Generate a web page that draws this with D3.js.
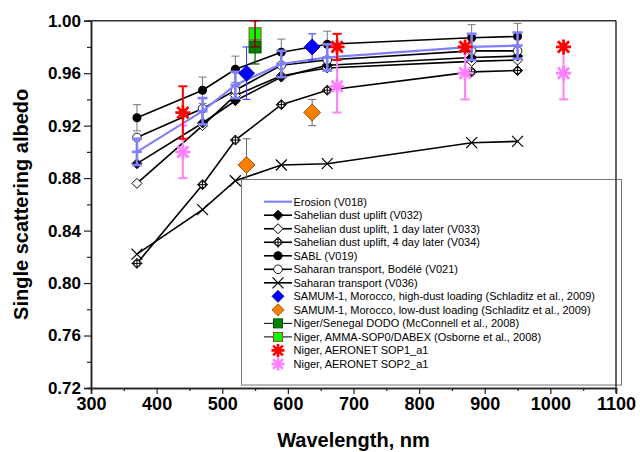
<!DOCTYPE html>
<html>
<head>
<meta charset="utf-8">
<script src="https://cdn.jsdelivr.net/npm/d3@7/dist/d3.min.js"></script>
<style>
  html, body { margin: 0; padding: 0; background: #fff; }
  svg { display: block; }
  text { font-family: "Liberation Sans", Arial, sans-serif; }
</style>
</head>
<body>
<script>
// ---------- data ----------
const wavelengths = [370, 470, 520, 590, 660, 880, 950];
const erosion   = [0.900, 0.931, 0.951, 0.967, 0.972, 0.980, 0.981];
const erosionErr = [0.01, 0.01, 0.01, 0.01, 0.01, 0.01, 0.01];
const v032 = [0.891, 0.922, 0.939, 0.957, 0.966, 0.972, 0.973];
const v033 = [0.876, 0.920, 0.943, 0.958, 0.964, 0.969, 0.970];
const v034 = [0.815, 0.875, 0.909, 0.936, 0.947, 0.961, 0.962];
const sabl = [0.926, 0.947, 0.963, 0.976, 0.982, 0.987, 0.988];
const sablErr = [0.01, 0.01, 0.01, 0.01, 0.01, 0.01, 0.01];
const v021 = [0.911, 0.933, 0.947, 0.966, 0.970, 0.977, 0.977];
const v036 = [0.822, 0.856, 0.878, 0.890, 0.891, 0.907, 0.908];

const samumWl = [537, 637];
const samumHigh = [0.960, 0.980];
const samumHighErr = [0.02, 0.01];
const samumLow = [0.890, 0.930];
const samumLowErr = [0.02, 0.01];

const dodoWl = [550];
const dodo = [0.980];
const dodoLow = [0.967];
const dodoHigh = [0.990];
const ammaWl = [550];
const amma = [0.990];
const ammaErr = [0.01];

const aeronetWl = [440, 675, 870, 1020];
const sop1 = [0.930, 0.980, 0.980, 0.980];
const sop1Err = [0.02, 0.01, 0, 0];
const sop2 = [0.900, 0.950, 0.960, 0.960];
const sop2Err = [0.02, 0.02, 0.02, 0.02];

const xMajor = [300, 400, 500, 600, 700, 800, 900, 1000, 1100];
const xMinor = [350, 450, 550, 650, 750, 850, 950, 1050];
const yMajor = [0.72, 0.76, 0.80, 0.84, 0.88, 0.92, 0.96, 1.00];
const yMinor = [0.74, 0.78, 0.82, 0.86, 0.90, 0.94, 0.98];

const legendLabels = [
  "Erosion (V018)",
  "Sahelian dust uplift (V032)",
  "Sahelian dust uplift, 1 day later (V033)",
  "Sahelian dust uplift, 4 day later (V034)",
  "SABL (V019)",
  "Saharan transport, Bodélé (V021)",
  "Saharan transport (V036)",
  "SAMUM-1, Morocco, high-dust loading (Schladitz et al., 2009)",
  "SAMUM-1, Morocco, low-dust loading (Schladitz et al., 2009)",
  "Niger/Senegal DODO (McConnell et al., 2008)",
  "Niger, AMMA-SOP0/DABEX (Osborne et al., 2008)",
  "Niger, AERONET SOP1_a1",
  "Niger, AERONET SOP2_a1"
];

// ---------- layout ----------
const W = 640, H = 452;
const L = 91, R = 616, T = 20.7, B = 388;
const x = d3.scaleLinear().domain([300, 1100]).range([L, R]);
const y = d3.scaleLinear().domain([0.72, 1.00]).range([B, T]);

const svg = d3.select("body").append("svg").attr("width", W).attr("height", H);

// ---------- marker helpers ----------
function diamondPath(r) { return `M0,${-r}L${r},0L0,${r}L${-r},0Z`; }
function drawMarker(g, type, cx, cy, opt = {}) {
  const m = g.append("g").attr("transform", `translate(${cx},${cy})`);
  switch (type) {
    case "fdiamond":
      m.append("path").attr("d", diamondPath(5)).attr("fill", "#000").attr("stroke", "#000").attr("stroke-width", 1);
      break;
    case "odiamond":
      m.append("path").attr("d", diamondPath(5)).attr("fill", "#fff").attr("stroke", "#000").attr("stroke-width", 1);
      break;
    case "pdiamond":
      m.append("path").attr("d", diamondPath(5)).attr("fill", "#fff").attr("stroke", "#000").attr("stroke-width", 1);
      m.append("path").attr("d", "M-5,0H5M0,-5V5").attr("stroke", "#000").attr("stroke-width", 1);
      m.append("circle").attr("r", 3.2).attr("fill", "none").attr("stroke", "#000").attr("stroke-width", 1);
      break;
    case "fcircle":
      m.append("circle").attr("r", 4.5).attr("fill", "#000");
      break;
    case "ocircle":
      m.append("circle").attr("r", 4.3).attr("fill", "#fff").attr("stroke", "#000").attr("stroke-width", 0.9);
      break;
    case "cross":
      m.append("path").attr("d", "M-5.5,-5.5L5.5,5.5M-5.5,5.5L5.5,-5.5").attr("stroke", "#000").attr("stroke-width", 1.2);
      break;
    case "bigdiamond":
      m.append("path").attr("d", diamondPath(opt.r || 8)).attr("fill", opt.fill).attr("stroke", opt.stroke).attr("stroke-width", 0.8);
      break;
    case "square":
      m.append("rect").attr("x", -6).attr("y", -6).attr("width", 12).attr("height", 12)
        .attr("fill", opt.fill).attr("stroke", opt.stroke).attr("stroke-width", 1);
      break;
    case "asterisk": {
      const s = opt.s || 6.5, d = s * 0.75;
      m.append("path").attr("d", `M${-s},0H${s}M0,${-s}V${s}M${-d},${-d}L${d},${d}M${-d},${d}L${d},${-d}`)
        .attr("stroke", opt.color).attr("stroke-width", opt.w || 2.8);
      break;
    }
  }
}
function errBar(g, cx, lo, hi, color, width, cap) {
  g.append("line").attr("x1", cx).attr("x2", cx).attr("y1", y(lo)).attr("y2", y(hi))
    .attr("stroke", color).attr("stroke-width", width);
  [lo, hi].forEach(v => g.append("line").attr("x1", cx - cap / 2).attr("x2", cx + cap / 2)
    .attr("y1", y(v)).attr("y2", y(v)).attr("stroke", color).attr("stroke-width", width));
}

// ---------- axes ----------
const axG = svg.append("g");
const xMinAx = d3.axisBottom(x).tickValues(xMinor).tickSize(3).tickFormat("");
const xMajAx = d3.axisBottom(x).tickValues(xMajor).tickSize(6).tickPadding(3).tickFormat(d3.format("d"));
const yMinAx = d3.axisLeft(y).tickValues(yMinor).tickSize(4).tickFormat("");
const yMajAx = d3.axisLeft(y).tickValues(yMajor).tickSize(7).tickPadding(3).tickFormat(d3.format(".2f"));

axG.append("g").attr("transform", `translate(0,${B})`).call(xMinAx);
const xg = axG.append("g").attr("transform", `translate(0,${B})`).call(xMajAx);
axG.append("g").attr("transform", `translate(${L},0)`).call(yMinAx);
const yg = axG.append("g").attr("transform", `translate(${L},0)`).call(yMajAx);
axG.selectAll(".domain").attr("stroke", "#222").attr("stroke-width", 1.5);
axG.selectAll(".tick line").attr("stroke", "#222").attr("stroke-width", 1.2);
axG.selectAll(".tick text").attr("fill", "#000").attr("font-weight", "bold")
  .attr("font-family", "'Liberation Sans', Arial, sans-serif");
xg.selectAll(".tick text").attr("font-size", 18);
yg.selectAll(".tick text").attr("font-size", 17);

// frame top
svg.append("line").attr("x1", L).attr("x2", R).attr("y1", T).attr("y2", T).attr("stroke", "#333").attr("stroke-width", 1.5);

// ---------- data ----------
const dg = svg.append("g");
const lineGen = vals => d3.line().x((d, i) => x(wavelengths[i])).y(d => y(d))(vals);

// SABL error bars
sabl.forEach((v, i) => errBar(dg, x(wavelengths[i]), v - sablErr[i], v + sablErr[i], "#777", 1, 8));

const blackSeries = [
  { vals: v036, m: "cross" },
  { vals: v034, m: "pdiamond" },
  { vals: v033, m: "odiamond" },
  { vals: v032, m: "fdiamond" },
  { vals: v021, m: "ocircle" },
  { vals: sabl, m: "fcircle" }
];
blackSeries.forEach(s => {
  dg.append("path").attr("d", lineGen(s.vals)).attr("fill", "none").attr("stroke", "#000").attr("stroke-width", 1.6);
});
blackSeries.forEach(s => {
  s.vals.forEach((v, i) => drawMarker(dg, s.m, x(wavelengths[i]), y(v)));
});

// Erosion
const eroColor = "#8080ff";
dg.append("path").attr("d", lineGen(erosion)).attr("fill", "none").attr("stroke", eroColor).attr("stroke-width", 2.2);
erosion.forEach((v, i) => {
  const cx = x(wavelengths[i]);
  errBar(dg, cx, v - erosionErr[i], v + erosionErr[i], eroColor, 2.6, 10);
  dg.append("line").attr("x1", cx - 5).attr("x2", cx + 5).attr("y1", y(v)).attr("y2", y(v))
    .attr("stroke", eroColor).attr("stroke-width", 2.6);
});

// SAMUM
samumWl.forEach((w, i) => {
  errBar(dg, x(w), samumLow[i] - samumLowErr[i], samumLow[i] + samumLowErr[i], "#666", 1, 8);
  drawMarker(dg, "bigdiamond", x(w), y(samumLow[i]), { fill: "#ff8000", stroke: "#7a4000", r: 8.5 });
});
samumWl.forEach((w, i) => {
  errBar(dg, x(w), samumHigh[i] - samumHighErr[i], samumHigh[i] + samumHighErr[i], "#3030ff", 1, 8);
  drawMarker(dg, "bigdiamond", x(w), y(samumHigh[i]), { fill: "#0000ff", stroke: "#000080", r: 8 });
});

// DODO & AMMA
dodoWl.forEach((w, i) => {
  drawMarker(dg, "square", x(w), y(dodo[i]), { fill: "#008000", stroke: "#005000" });
  errBar(dg, x(w), dodoLow[i], dodoHigh[i], "#006000", 1.2, 9);
});
ammaWl.forEach((w, i) => {
  drawMarker(dg, "square", x(w), y(amma[i]), { fill: "#00ff00", stroke: "#a04020" });
  errBar(dg, x(w), amma[i] - ammaErr[i], amma[i] + ammaErr[i], "#900000", 1.5, 9);
});

// AERONET
aeronetWl.forEach((w, i) => {
  if (sop2Err[i] > 0) errBar(dg, x(w), sop2[i] - sop2Err[i], sop2[i] + sop2Err[i], "#ff80ff", 2, 9);
  drawMarker(dg, "asterisk", x(w), y(sop2[i]), { color: "#ff80ff", s: 7.5 });
});
aeronetWl.forEach((w, i) => {
  if (sop1Err[i] > 0) errBar(dg, x(w), sop1[i] - sop1Err[i], sop1[i] + sop1Err[i], "#ff0000", 2, 9);
  drawMarker(dg, "asterisk", x(w), y(sop1[i]), { color: "#ff0000", s: 7.5 });
});

// ---------- legend ----------
const lg = svg.append("g");
lg.append("rect").attr("x", 241.5).attr("y", 179.5).attr("width", 380).attr("height", 205.5)
  .attr("fill", "#fff").attr("stroke", "#777").attr("stroke-width", 1);
const legTypes = [
  { line: eroColor, lw: 2.2 },
  { line: "#000", m: "fdiamond" },
  { line: "#000", m: "odiamond" },
  { line: "#000", m: "pdiamond" },
  { line: "#000", m: "fcircle" },
  { line: "#000", m: "ocircle" },
  { line: "#000", m: "cross" },
  { m: "bigdiamond", opt: { fill: "#0000ff", stroke: "#000080", r: 6 } },
  { m: "bigdiamond", opt: { fill: "#ff8000", stroke: "#7a4000", r: 6 } },
  { line: "#000", lw: 1, m: "square", opt: { fill: "#008000", stroke: "#005000" } },
  { line: "#000", lw: 1, m: "square", opt: { fill: "#00ff00", stroke: "#a04020" } },
  { m: "asterisk", opt: { color: "#ff0000", s: 6.5, w: 2.6 } },
  { m: "asterisk", opt: { color: "#ff80ff", s: 6.5, w: 2.6 } }
];
legendLabels.forEach((lab, i) => {
  const cy = 201.7 + i * 13.52;
  const t = legTypes[i];
  if (t.line) lg.append("line").attr("x1", 264).attr("x2", 292).attr("y1", cy).attr("y2", cy)
    .attr("stroke", t.line).attr("stroke-width", t.lw || 1.6);
  if (t.m) {
    const opt = Object.assign({}, t.opt || {});
    if (t.m === "square") {
      lg.append("rect").attr("x", 273.5).attr("y", cy - 4.5).attr("width", 9).attr("height", 9)
        .attr("fill", opt.fill).attr("stroke", opt.stroke).attr("stroke-width", 1);
    } else {
      drawMarker(lg, t.m, 278, cy, opt);
    }
  }
  lg.append("text").attr("x", 293.5).attr("y", cy + 4).attr("font-size", 11).attr("fill", "#000").text(lab);
});

// right frame on top
svg.append("line").attr("x1", R).attr("x2", R).attr("y1", T).attr("y2", B + 5).attr("stroke", "#333").attr("stroke-width", 1.5);

// ---------- titles ----------
svg.append("text").attr("x", (L + R) / 2).attr("y", 447).attr("text-anchor", "middle")
  .attr("font-size", 20).attr("font-weight", "bold").attr("fill", "#000").text("Wavelength, nm");
svg.append("text").attr("transform", `translate(28,${(T + B) / 2}) rotate(-90)`).attr("text-anchor", "middle")
  .attr("font-size", 20).attr("font-weight", "bold").attr("fill", "#000").text("Single scattering albedo");
</script>
</body>
</html>
